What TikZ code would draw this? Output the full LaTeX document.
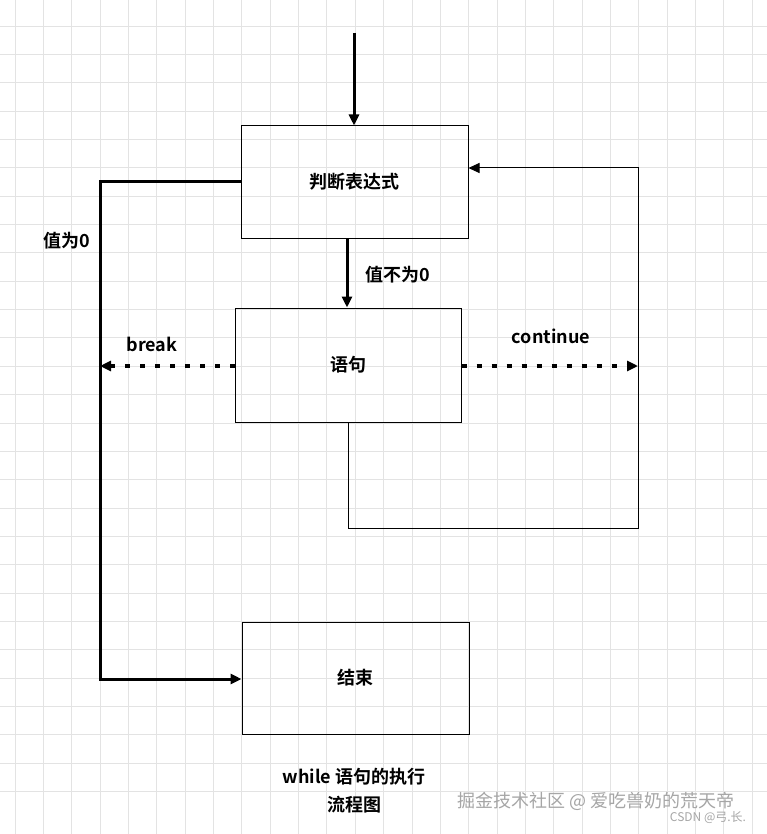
\documentclass[tikz,border=0pt]{standalone}
\usepackage{fontspec}
\setmainfont{Noto Sans CJK SC}[BoldFont={* Bold}]
\usetikzlibrary{arrows.meta}
\begin{document}
\begin{tikzpicture}[x=1pt,y=-1pt,
  box/.style={draw=black,line width=1pt,minimum width=227pt,minimum height=112pt,inner sep=0pt,font=\bfseries\fontsize{18}{20}\selectfont},
  lab/.style={font=\bfseries\fontsize{18}{20}\selectfont,inner sep=0pt},
  flow/.style={line width=3pt,-{Triangle[length=11pt,width=10pt]}},
  dot/.style={line width=3.2pt,dash pattern=on 5pt off 10pt,-{Triangle[length=11pt,width=10pt]}},
  wm/.style={text=gray!70,inner sep=0pt}]
\useasboundingbox (0,0) rectangle (767,834);
\fill[white] (0,0) rectangle (767,834);
\foreach \i in {0,...,27} {
  \draw[gray!22,line width=0.8pt] (15+28.35*\i,0) -- (15+28.35*\i,834);
  \draw[gray!22,line width=0.8pt] (0,26+28.35*\i) -- (767,26+28.35*\i);
}
\node[box] (b1) at (354.5,182) {判断表达式};
\node[box,minimum width=226pt,minimum height=114pt] (b2) at (348,365) {语句};
\node[box] (b3) at (355.5,678) {结束};
\coordinate (top) at (354,33);
\draw[flow] (top) -- (b1.north -| top);
\draw[flow] (b1.south -| 347,0) -- (b2.north -| 347,0);
\node[lab] (l1) at (398,275) {值不为0};
\coordinate (c1) at (100,182);
\coordinate (c2) at (100,679);
\draw[flow] (b1.west |- c1) -- (c1) -- (c2) -- (b3.west |- c2);
\node[lab] (l2) at (67,241) {值为0};
\coordinate (bk) at (100,366);
\draw[dot] (b2.west |- bk) -- (bk);
\node[lab] (l3) at (152,344) {break};
\coordinate (ct) at (638,366);
\draw[dot] (b2.east |- ct) -- (ct);
\node[lab] (l4) at (551,336) {continue};
\coordinate (d1) at (348,528);
\coordinate (d2) at (638,528);
\coordinate (d3) at (638,168);
\draw[line width=1pt,-{Triangle[length=11pt,width=10pt]}] (b2.south -| d1) -- (d1) -- (d2) -- (d3) -- (b1.east |- d3);
\node[lab] (cap1) at (354,777) {while 语句的执行};
\node[lab] (cap2) at (354,805) {流程图};
\node[wm,font=\fontsize{18}{20}\selectfont] (w1) at (596,801) {掘金技术社区 @ 爱吃兽奶的荒天帝};
\node[wm,font=\fontsize{12}{14}\selectfont] (w2) at (708,818) {CSDN @弓.长.};
\end{tikzpicture}
\end{document}
